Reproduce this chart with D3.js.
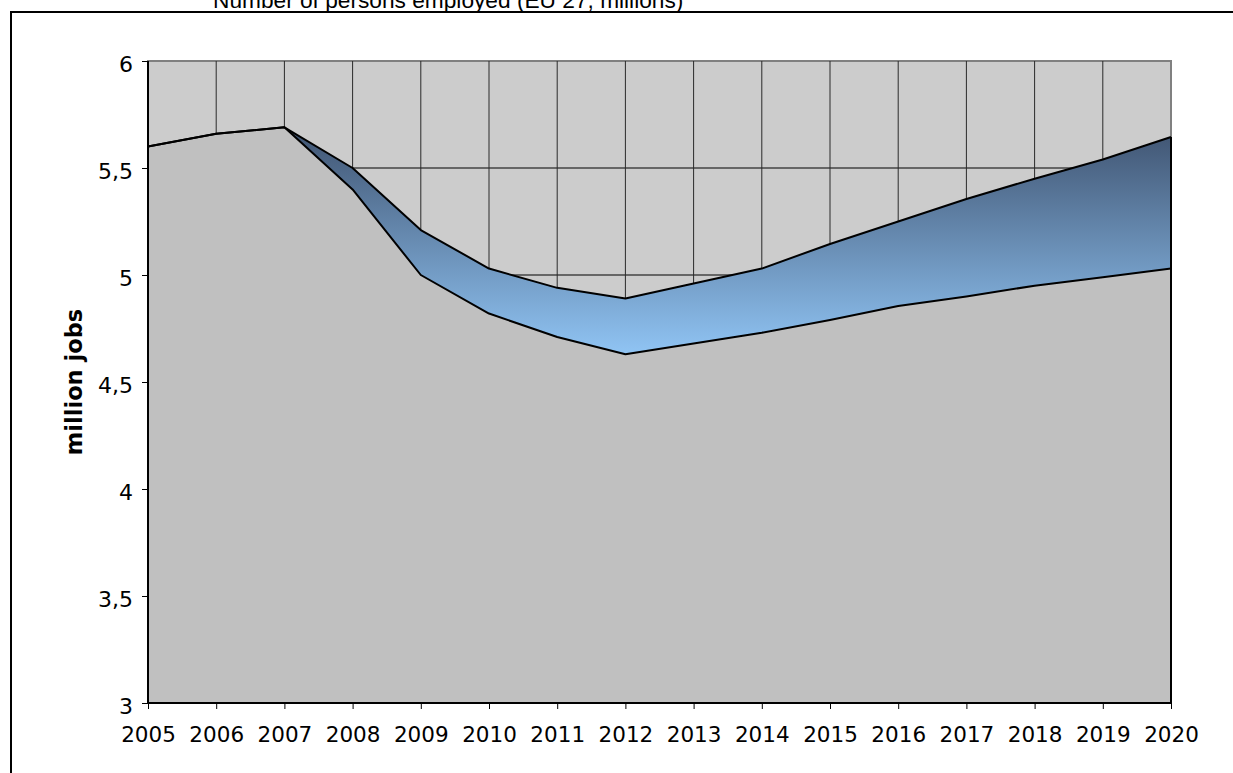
<!DOCTYPE html>
<html>
<head>
<meta charset="utf-8">
<script src="https://cdn.jsdelivr.net/npm/d3@7/dist/d3.min.js"></script>
<style>
html,body{margin:0;padding:0;background:#fff;}
svg{display:block;}
</style>
</head>
<body>
<svg id="chart" width="1233" height="773"></svg>
<script>
const years = [2005,2006,2007,2008,2009,2010,2011,2012,2013,2014,2015,2016,2017,2018,2019,2020];
const lowerSeries = [5.60,5.66,5.69,5.40,5.00,4.82,4.71,4.63,4.68,4.73,4.79,4.855,4.90,4.95,4.99,5.03];
const upperSeries = [5.60,5.66,5.69,5.50,5.21,5.03,4.94,4.89,4.96,5.03,5.145,5.25,5.355,5.45,5.54,5.645];
const yTicks = [3,3.5,4,4.5,5,5.5,6];
const yTickLabels = ["3","3,5","4","4,5","5","5,5","6"];
const titleText = "Number of persons employed (EU 27, millions)";
const yAxisTitle = "million jobs";

(function(){
const svg = d3.select("#chart");
const pL = 148, pR = 1171, pT = 61, pB = 703;

const x = d3.scaleLinear().domain([years[0], years[years.length-1]]).range([pL, pR]);
const y = d3.scaleLinear().domain([3, 6]).range([pB, pT]);

// outer frame (extends beyond viewport on right/bottom)
svg.append("rect").attr("x", 11).attr("y", 12).attr("width", 1300).attr("height", 900)
  .attr("fill", "none").attr("stroke", "#000").attr("stroke-width", 2);

// title (partly clipped at top, as in reference)
svg.append("text").attr("x", 213).attr("y", 8)
  .attr("font-family", "Liberation Sans, Arial, sans-serif").attr("font-size", 22.7)
  .attr("fill", "#000").text(titleText);

// plot background
svg.append("rect").attr("x", pL).attr("y", pT).attr("width", pR-pL).attr("height", pB-pT)
  .attr("fill", "#cccccc").attr("stroke", "#808080").attr("stroke-width", 2);

// gridlines
svg.append("g").selectAll("line").data(yTicks.slice(1, -1)).join("line")
  .attr("x1", pL).attr("x2", pR).attr("y1", d => y(d)).attr("y2", d => y(d))
  .attr("stroke", "#000").attr("stroke-width", 1);
svg.append("g").selectAll("line").data(years.slice(1, -1)).join("line")
  .attr("x1", d => x(d)).attr("x2", d => x(d)).attr("y1", pT).attr("y2", pB)
  .attr("stroke", "#2a2a2a").attr("stroke-width", 1);

// gradient
const defs = svg.append("defs");
const grad = defs.append("linearGradient").attr("id", "bandGrad")
  .attr("gradientUnits", "userSpaceOnUse")
  .attr("x1", 0).attr("x2", 0)
  .attr("y1", y(d3.max(upperSeries))).attr("y2", y(d3.min(lowerSeries)));
grad.append("stop").attr("offset", "0%").attr("stop-color", "#3f5370");
grad.append("stop").attr("offset", "100%").attr("stop-color", "#90c4f4");

const data = years.map((yr, i) => ({yr, lo: lowerSeries[i], hi: upperSeries[i]}));

// lower area
svg.append("path").datum(data)
  .attr("d", d3.area().x(d => x(d.yr)).y0(y(3)).y1(d => y(d.lo)))
  .attr("fill", "#c0c0c0");

// band area
svg.append("path").datum(data)
  .attr("d", d3.area().x(d => x(d.yr)).y0(d => y(d.lo)).y1(d => y(d.hi)))
  .attr("fill", "url(#bandGrad)");

// outlines
const lineLo = d3.line().x(d => x(d.yr)).y(d => y(d.lo));
const lineHi = d3.line().x(d => x(d.yr)).y(d => y(d.hi));
svg.append("path").datum(data).attr("d", lineLo).attr("fill", "none").attr("stroke", "#000").attr("stroke-width", 2).attr("stroke-linejoin", "round");
svg.append("path").datum(data).attr("d", lineHi).attr("fill", "none").attr("stroke", "#000").attr("stroke-width", 2).attr("stroke-linejoin", "round");
// right edge of area
const last = data[data.length-1];
svg.append("line").attr("x1", x(last.yr)).attr("x2", x(last.yr)).attr("y1", y(3)).attr("y2", y(last.hi))
  .attr("stroke", "#000").attr("stroke-width", 2);

// axes
const yAxis = d3.axisLeft(y).tickValues(yTicks).tickFormat((d, i) => yTickLabels[i]).tickSize(6).tickPadding(9);
const gy = svg.append("g").attr("transform", `translate(${pL},0)`).call(yAxis);
const xAxis = d3.axisBottom(x).tickValues(years).tickFormat(d3.format("d")).tickSize(6).tickPadding(18);
const gx = svg.append("g").attr("transform", `translate(0,${pB})`).call(xAxis);
[gx, gy].forEach(g => {
  g.select(".domain").attr("stroke", "#000").attr("stroke-width", 2);
  g.selectAll(".tick line").attr("stroke", "#000");
  g.selectAll(".tick text").attr("font-family", "DejaVu Sans, Verdana, sans-serif").attr("font-size", 22).attr("fill", "#000");
});
gy.selectAll(".tick text").attr("dy", "0.46em");
gx.selectAll(".tick text").attr("font-size", 21.5);
gy.select(".domain").attr("d", `M0,${pB}V${pT}`);
gx.select(".domain").attr("d", `M${pL},0H${pR}`);

// y axis title
svg.append("text").attr("transform", `translate(82,382) rotate(-90)`)
  .attr("text-anchor", "middle")
  .attr("font-family", "DejaVu Sans, Verdana, sans-serif").attr("font-weight", "bold").attr("font-size", 22.5)
  .attr("fill", "#000").text(yAxisTitle);
})();
</script>
</body>
</html>
